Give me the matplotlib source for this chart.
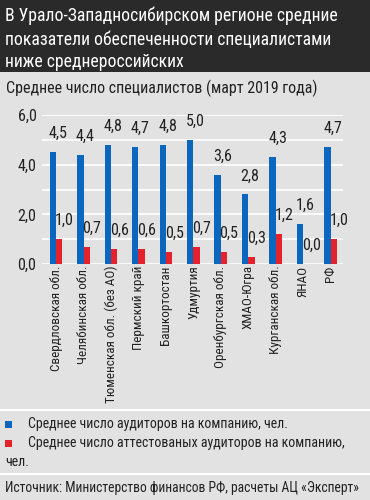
import matplotlib
matplotlib.use("Agg")
import matplotlib.pyplot as plt
import numpy as np
from matplotlib.patches import Rectangle
from matplotlib.lines import Line2D

plt.rcParams['font.family'] = ['Roboto Condensed', 'DejaVu Sans']

title_lines = ["В Урало-Западносибирском регионе средние",
               "показатели обеспеченности специалистами",
               "ниже среднероссийских"]
subtitle = "Среднее число специалистов (март 2019 года)"
categories = ["Свердловская обл.", "Челябинская обл.", "Тюменская обл. (без АО)",
              "Пермский край", "Башкортостан", "Удмуртия", "Оренбургская обл.",
              "ХМАО-Югра", "Курганская обл.", "ЯНАО", "РФ"]
auditors = [4.5, 4.4, 4.8, 4.7, 4.8, 5.0, 3.6, 2.8, 4.3, 1.6, 4.7]
certified = [1.0, 0.7, 0.6, 0.6, 0.5, 0.7, 0.5, 0.3, 1.2, 0.0, 1.0]
yticks = [0, 2, 4, 6]
legend_labels = ["Среднее число аудиторов на компанию, чел.",
                 "Среднее число аттестованых аудиторов на компанию,\nчел."]
source = "Источник: Министерство финансов РФ, расчеты АЦ «Эксперт»"

BLUE = "#0b67bd"
RED = "#e5212b"
BG = "#e2e2e2"
DARK = "#2a2a2a"
TXT = "#222222"

W, H = 370, 500
fig = plt.figure(figsize=(W / 100, H / 100), dpi=100, facecolor=BG)

def fy(py):
    return 1 - py / H

def fx(px):
    return px / W

# Title box
fig.patches.append(Rectangle((0, fy(72)), 1, 72 / H, transform=fig.transFigure,
                             facecolor=DARK, edgecolor='none', zorder=0))
for line, base in zip(title_lines, (21, 44.5, 67)):
    fig.text(fx(5), fy(base), line, color='white', fontsize=12.7, va='baseline', ha='left')
fig.text(fx(6), fy(88), subtitle, color=TXT, fontsize=11.5, va='center', ha='left')

ax = fig.add_axes([fx(42), fy(264), fx(343) - fx(42), (264 - 115) / H])
ax.set_facecolor(BG)
x = np.arange(len(categories))
bw = 0.235
ax.bar(x - bw / 2, auditors, width=bw, color=BLUE, zorder=3)
ax.bar(x + bw / 2, certified, width=bw, color=RED, zorder=3)
for i in range(len(categories)):
    ax.annotate(f"{auditors[i]:.1f}".replace('.', ','), (x[i] - bw / 2, auditors[i]),
                xytext=(3.5, 8), textcoords='offset points', ha='center', va='bottom',
                fontsize=11.5, color=TXT)
    ax.annotate(f"{certified[i]:.1f}".replace('.', ','), (x[i] + bw / 2, certified[i]),
                xytext=(3.5, 8), textcoords='offset points', ha='center', va='bottom',
                fontsize=11.5, color=TXT)
ax.set_xlim(-0.51, len(categories) - 1 + 0.44)
ax.set_ylim(0, 6)
ax.set_yticks(yticks)
ax.set_yticklabels([f"{v:.1f}".replace('.', ',') for v in yticks], fontsize=11.5, color=TXT)
ax.set_yticks(range(0, 7), minor=True)
ax.grid(axis='y', which='both', color='white', linewidth=1.2, zorder=0)
ax.tick_params(axis='y', which='both', length=0, pad=4)
ax.set_xticks(x)
ax.set_xticklabels(categories, rotation=90, fontsize=9.5, color=TXT)
ax.tick_params(axis='x', length=0, pad=1)
for s in ax.spines.values():
    s.set_visible(False)

# separators
for py in (410, 474):
    fig.add_artist(Line2D([0, 1], [fy(py), fy(py)], transform=fig.transFigure,
                          color='white', linewidth=1.5))

# legend
fig.patches.append(Rectangle((fx(5), fy(428)), 7 / W, 7 / H, transform=fig.transFigure,
                             facecolor=BLUE, edgecolor='none'))
fig.text(fx(28), fy(424), legend_labels[0], fontsize=10, color=TXT, va='center')
fig.patches.append(Rectangle((fx(5), fy(447)), 7 / W, 7 / H, transform=fig.transFigure,
                             facecolor=RED, edgecolor='none'))
first, second = legend_labels[1].split('\n')
fig.text(fx(28), fy(443), first, fontsize=10, color=TXT, va='center')
fig.text(fx(5), fy(462), second, fontsize=10, color=TXT, va='center')

fig.text(fx(5), fy(488), source, fontsize=9.8, color=TXT, va='center')

fig.savefig("out.png", dpi=100, facecolor=BG)
